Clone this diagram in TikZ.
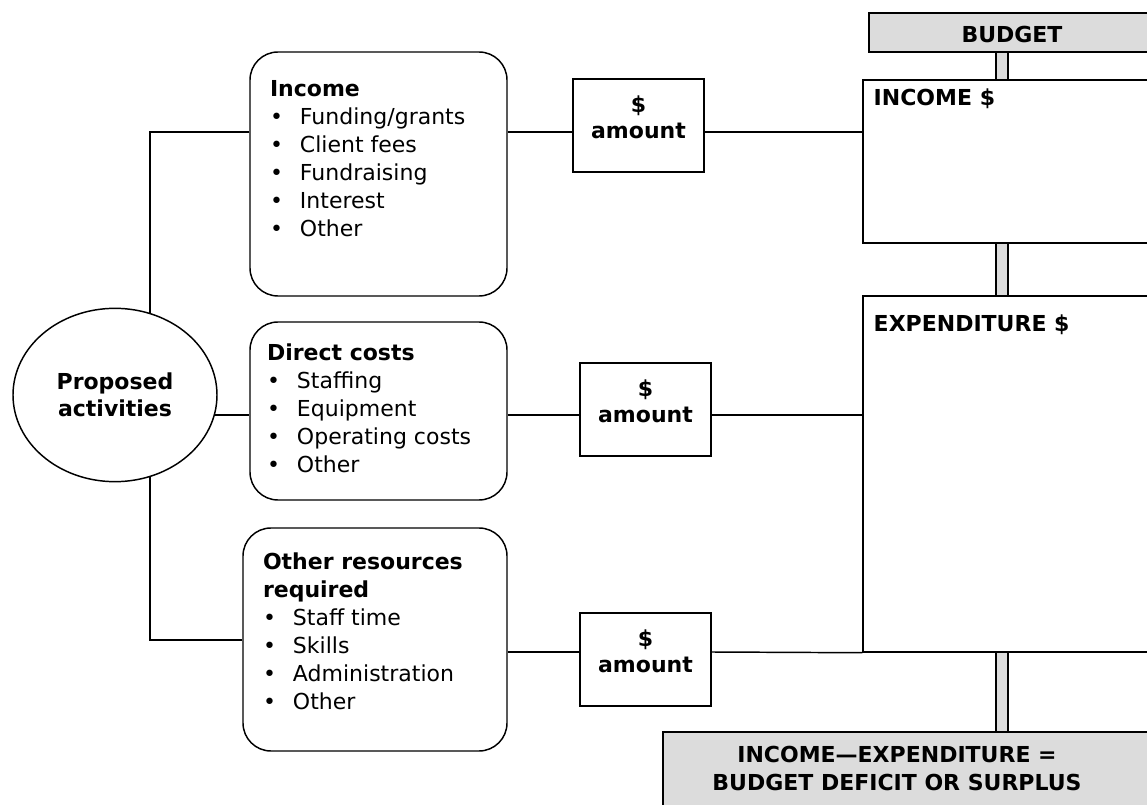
\documentclass[tikz,border=0pt]{standalone}
\usepackage{fontspec}
\setmainfont{DejaVu Sans}
\usetikzlibrary{backgrounds,shapes,positioning,calc,fit}

\definecolor{panelGrey}{HTML}{DCDCDC}
\newcommand{\bul}{\makebox[22.5pt][l]{\textbullet}}

\begin{document}
\begin{tikzpicture}[x=0.75pt,y=-0.75pt,line width=1.1pt,font=\fontsize{16.5}{21}\selectfont,
    boxframe/.style={draw,inner sep=0pt,fit={#1}},
    roundframe/.style={draw,inner sep=0pt,rounded corners=21pt,fit={#1}},
    greyframe/.style={draw,fill=panelGrey,inner sep=0pt,fit={#1}},
    listtext/.style={anchor=north west,align=left,inner sep=0pt},
    headtext/.style={anchor=base west,inner sep=0pt,font=\fontsize{16.5}{21}\selectfont\bfseries},
    wire/.style={draw,line width=1.1pt}]
    \useasboundingbox (0,0) rectangle (1147,805);
    \clip (0,0) rectangle (1147,805);

    \coordinate (trunkTop) at (150,132);
    \coordinate (trunkBottom) at (150,640);
    \coordinate (middleRow) at (0,415);
    \coordinate (lowerRow) at (0,652);
    \coordinate (barAxis) at (1002,0);

    \node [draw,fill=white,ellipse,inner sep=0pt,minimum width=153pt,minimum height=130pt,align=center,font=\fontsize{16.5}{20.5}\selectfont\bfseries] (activities) at (115,395) {Proposed\\activities};

    \node [roundframe={(250,52) (507,296)}] (incomeBox) {};
    \node [roundframe={(250,322) (507,500)}] (directBox) {};
    \node [roundframe={(243,528) (507,751)}] (otherBox) {};

    \node [listtext] (incomeList) at ($(incomeBox.north west)+(20,28)$) {\textbf{Income}\\\bul Funding/grants\\\bul Client fees\\\bul Fundraising\\\bul Interest\\\bul Other};
    \node [listtext] (directList) at ($(directBox.north west)+(17,22)$) {\textbf{Direct costs}\\\bul Staffing\\\bul Equipment\\\bul Operating costs\\\bul Other};
    \node [listtext] (otherList) at ($(otherBox.north west)+(20,25)$) {\textbf{Other resources}\\\textbf{required}\\\bul Staff time\\\bul Skills\\\bul Administration\\\bul Other};

    \node [boxframe={(573,79) (704,172)},align=center,font=\fontsize{16.5}{20}\selectfont\bfseries] (amountA) {\$\\amount};
    \node [boxframe={(580,363) (711,456)},align=center,font=\fontsize{16.5}{20}\selectfont\bfseries] (amountB) {\$\\amount};
    \node [boxframe={(580,613) (711,706)},align=center,font=\fontsize{16.5}{20}\selectfont\bfseries] (amountC) {\$\\amount};

    \node [greyframe={(869,13) (1155,52)}] (budgetBox) {};
    \node [font=\fontsize{16.5}{21}\selectfont\bfseries] (budgetLabel) at (1012,34) {BUDGET};
    \node [boxframe={(863,80) (1200,243)}] (incomeTotal) {};
    \node [headtext] (incomeLabel) at (873,106) {INCOME \$};
    \node [boxframe={(863,296) (1200,652)}] (expenditureTotal) {};
    \node [headtext] (expenditureLabel) at (873,332) {EXPENDITURE \$};
    \node [greyframe={(663,732) (1200,850)}] (deficitBox) {};
    \node [align=center,font=\fontsize{16.5}{21}\selectfont\bfseries] (deficitLabel) at (897,768) {INCOME---EXPENDITURE =\\BUDGET DEFICIT OR SURPLUS};

    \draw[fill=panelGrey] ($(barAxis |- budgetBox.south)+(-6,0)$) rectangle ($(barAxis |- incomeTotal.north)+(6,0)$);
    \draw[fill=panelGrey] ($(barAxis |- incomeTotal.south)+(-6,0)$) rectangle ($(barAxis |- expenditureTotal.north)+(6,0)$);
    \draw[fill=panelGrey] ($(barAxis |- expenditureTotal.south)+(-6,0)$) rectangle ($(barAxis |- deficitBox.north)+(6,0)$);

    \begin{scope}[on background layer]
    \draw[wire] (incomeBox.west |- trunkTop) -- (trunkTop) -- (trunkBottom) -- (otherBox.west |- trunkBottom);
    \draw[wire] (activities.center |- middleRow) -- (directBox.west |- middleRow);
    \draw[wire] (incomeBox.east |- trunkTop) -- (amountA.west |- trunkTop);
    \draw[wire] (amountA.east |- trunkTop) -- (incomeTotal.west |- trunkTop);
    \draw[wire] (directBox.east |- middleRow) -- (amountB.west |- middleRow);
    \draw[wire] (amountB.east |- middleRow) -- (expenditureTotal.west |- middleRow);
    \draw[wire] (otherBox.east |- lowerRow) -- (amountC.west |- lowerRow);
    \draw[wire] (amountC.east |- lowerRow) -- (expenditureTotal.south west);
    \end{scope}

\end{tikzpicture}
\end{document}
